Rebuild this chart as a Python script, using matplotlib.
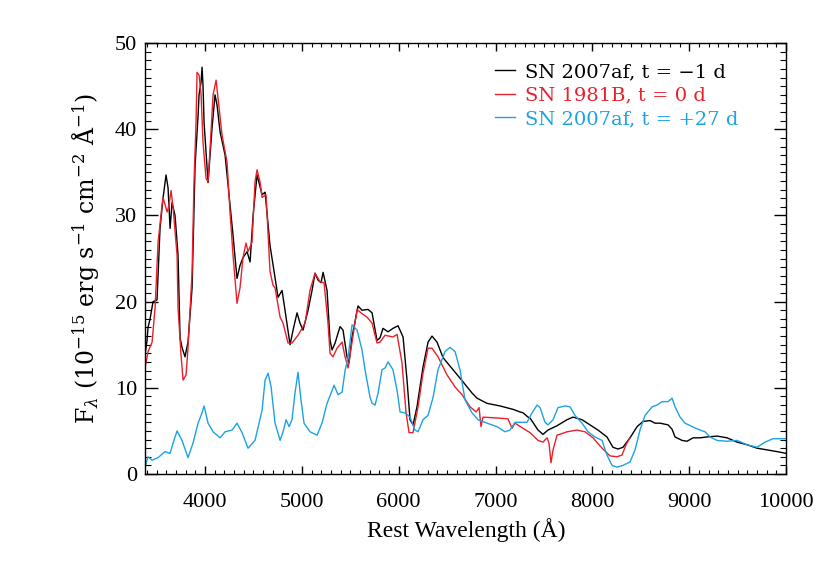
import matplotlib
matplotlib.use("Agg")
import matplotlib.pyplot as plt
from matplotlib.ticker import MultipleLocator

# ---------------- data ----------------
black_wl = [3380, 3401, 3411, 3432, 3463, 3504, 3535, 3566, 3597, 3618, 3639, 3659, 3690, 3721,
            3742, 3762, 3793, 3824, 3866, 3897, 3928, 3938, 3959, 3969, 3979, 3990, 4021, 4031,
            4072, 4103, 4124, 4155, 4207, 4258, 4289, 4330, 4361, 4392, 4434, 4465, 4496, 4537,
            4589, 4620, 4671, 4702, 4754, 4795, 4826, 4878, 4909, 4950, 4981, 5012, 5064, 5105,
            5136, 5167, 5198, 5219, 5260, 5291, 5312, 5343, 5394, 5425, 5466, 5487, 5518, 5580,
            5621, 5683, 5725, 5776, 5807, 5838, 5890, 5941, 5993, 6045, 6086, 6117, 6148, 6189,
            6251, 6303, 6344, 6396, 6458, 6561, 6664, 6757, 6809, 6912, 7046, 7181, 7253, 7284,
            7336, 7356, 7439, 7490, 7542, 7635, 7738, 7800, 7893, 7976, 8058, 8151, 8213, 8265,
            8316, 8389, 8462, 8524, 8596, 8647, 8699, 8782, 8823, 8854, 8926, 8978, 9040, 9112,
            9184, 9288, 9391, 9494, 9597, 9700, 9804, 9907, 10000]
black_fl = [13.8, 15.5, 17.0, 18.0, 20.0, 20.2, 28.5, 32.0, 34.7, 33.2, 28.5, 31.5, 30.0, 25.4,
            15.8, 14.7, 13.6, 15.3, 21.6, 35.8, 41.6, 44.0, 45.5, 47.2, 45.1, 40.8, 35.5, 33.8,
            40.1, 44.0, 42.8, 39.7, 37.0, 31.2, 27.7, 22.7, 24.2, 25.1, 25.8, 24.6, 30.0, 34.7,
            32.4, 32.7, 26.5, 24.3, 20.5, 21.3, 19.0, 15.0, 16.7, 18.7, 17.5, 16.7, 19.0, 21.3,
            23.3, 22.5, 22.2, 23.4, 21.3, 15.5, 14.4, 15.2, 17.1, 16.7, 13.6, 12.9, 15.9, 19.5,
            19.0, 19.1, 18.7, 15.5, 15.8, 16.9, 16.5, 16.9, 17.2, 15.9, 10.9, 6.3, 5.7, 7.8,
            12.4, 15.3, 16.0, 15.3, 13.5, 12.1, 10.7, 9.4, 8.8, 8.2, 7.9, 7.5, 7.2, 7.1,
            6.6, 6.5, 5.1, 4.6, 5.1, 5.6, 6.3, 6.6, 6.3, 5.7, 5.1, 4.3, 3.1, 2.9,
            3.1, 4.2, 5.5, 6.1, 6.2, 5.9, 5.9, 5.7, 5.2, 4.3, 3.9, 3.8, 4.2, 4.2,
            4.3, 4.4, 4.2, 3.7, 3.4, 3.0, 2.8, 2.6, 2.4]

red_wl = [3380, 3411, 3453, 3484, 3515, 3556, 3566, 3608, 3628, 3649, 3670, 3711, 3721, 3752,
          3773, 3804, 3824, 3866, 3886, 3907, 3917, 3938, 3959, 3979, 4010, 4031, 4052, 4083,
          4114, 4134, 4176, 4227, 4258, 4289, 4330, 4361, 4392, 4423, 4444, 4485, 4516, 4537,
          4568, 4589, 4630, 4671, 4702, 4723, 4775, 4806, 4857, 4898, 4960, 5033, 5084, 5136,
          5188, 5229, 5270, 5291, 5322, 5363, 5415, 5446, 5477, 5518, 5570, 5621, 5673, 5725,
          5776, 5807, 5859, 5941, 5983, 6034, 6076, 6107, 6148, 6200, 6251, 6303, 6344, 6406,
          6499, 6582, 6654, 6737, 6799, 6830, 6850, 6871, 7015, 7129, 7170, 7201, 7284, 7356,
          7439, 7490, 7532, 7552, 7573, 7594, 7635, 7738, 7841, 7924, 8007, 8100, 8182, 8254,
          8306, 8348, 8389]
red_fl = [12.3, 14.2, 15.3, 19.3, 26.9, 31.2, 32.1, 30.4, 31.2, 32.9, 30.9, 25.4, 19.3, 13.8,
          10.9, 11.5, 14.6, 23.4, 33.9, 40.8, 46.6, 46.3, 44.0, 38.5, 34.3, 33.9, 37.8, 44.0,
          45.7, 43.6, 39.3, 36.2, 30.4, 25.4, 19.8, 21.6, 25.1, 26.8, 25.8, 26.9, 33.9, 35.3,
          33.9, 32.1, 32.4, 23.5, 21.9, 21.6, 18.2, 17.5, 15.2, 15.2, 16.1, 17.5, 21.3, 23.3,
          22.3, 22.2, 17.5, 14.0, 13.6, 14.6, 15.3, 13.6, 12.3, 15.3, 19.1, 18.6, 18.2, 17.5,
          15.2, 15.3, 16.1, 15.9, 16.2, 12.9, 7.1, 4.8, 4.8, 7.8, 11.7, 14.6, 14.6, 13.6,
          11.5, 10.1, 9.2, 7.8, 7.2, 7.7, 5.5, 6.6, 6.5, 6.4, 5.3, 5.9, 5.3, 4.8,
          3.9, 3.7, 4.2, 3.6, 1.3, 2.8, 4.5, 4.9, 5.1, 4.9, 4.2, 3.0, 2.1, 2.0,
          2.2, 3.4, 4.2]

blue_wl = [3380, 3411, 3453, 3515, 3587, 3639, 3670, 3711, 3762, 3824, 3876, 3928, 3969, 3990,
           4031, 4083, 4155, 4207, 4279, 4330, 4382, 4444, 4516, 4589, 4620, 4651, 4682, 4723,
           4775, 4806, 4837, 4868, 4898, 4929, 4960, 4991, 5022, 5084, 5157, 5208, 5260, 5312,
           5332, 5374, 5415, 5446, 5477, 5518, 5570, 5621, 5652, 5704, 5725, 5756, 5787, 5828,
           5859, 5890, 5941, 5983, 6014, 6065, 6117, 6169, 6200, 6251, 6303, 6355, 6406, 6478,
           6530, 6582, 6633, 6685, 6757, 6819, 6912, 7015, 7098, 7150, 7201, 7274, 7325, 7377,
           7429, 7460, 7511, 7542, 7594, 7645, 7718, 7769, 7821, 7893, 7955, 8027, 8100, 8151,
           8203, 8254, 8316, 8389, 8441, 8492, 8544, 8617, 8668, 8720, 8782, 8823, 8854, 8906,
           8957, 9030, 9112, 9164, 9215, 9288, 9391, 9494, 9597, 9700, 9783, 9866, 10000]
blue_fl = [0.8, 2.0, 1.6, 1.9, 2.6, 2.4, 3.6, 5.0, 3.9, 1.9, 3.6, 5.9, 7.1, 7.9,
           5.9, 4.9, 4.2, 4.9, 5.1, 5.9, 4.8, 3.0, 3.9, 7.4, 10.9, 11.7, 10.1, 5.9,
           3.9, 4.9, 6.3, 5.5, 6.3, 9.4, 11.8, 8.6, 5.9, 4.9, 4.5, 5.9, 8.2, 9.7,
           10.3, 9.2, 9.5, 12.0, 13.5, 17.3, 16.7, 14.4, 12.1, 8.9, 8.2, 8.0, 9.4, 12.1,
           12.3, 13.0, 12.1, 9.7, 7.2, 7.1, 6.6, 5.1, 4.9, 6.3, 6.8, 8.9, 12.1, 14.2,
           14.7, 14.2, 12.1, 8.6, 7.1, 6.3, 5.9, 5.5, 4.9, 5.1, 6.0, 6.0, 6.0, 7.1,
           8.0, 7.7, 6.0, 5.7, 6.3, 7.7, 7.9, 7.8, 6.8, 5.9, 4.9, 4.3, 3.9, 2.2,
           1.0, 0.8, 1.0, 1.4, 2.8, 5.1, 6.8, 7.8, 8.0, 8.4, 8.4, 8.8, 7.8, 6.6,
           5.9, 5.5, 5.1, 4.9, 4.3, 3.9, 3.8, 3.9, 3.4, 3.1, 3.7, 4.1, 4.1]

labels = ["SN 2007af, t = \u22121 d", "SN 1981B, t = 0 d", "SN 2007af, t = +27 d"]
colors = ["black", "#e8202a", "#1ba3e3"]
x_label = "Rest Wavelength (\u00c5)"
y_label = r"F$_\lambda$ (10$^{-15}$ erg s$^{-1}$ cm$^{-2}$ $\mathrm{\AA}^{-1}$)"

# ---------------- figure ----------------
plt.rcParams['mathtext.fontset'] = 'dejavuserif'
fig = plt.figure(figsize=(8.3, 5.67), dpi=100)
ax = fig.add_axes([0.1753, 0.164, 0.7717, 0.760])

series = [(black_wl, black_fl), (red_wl, red_fl), (blue_wl, blue_fl)]
for (wl, fl), lab, c in zip(series, labels, colors):
    ax.plot(wl, fl, color=c, lw=1.0, label=lab)

ax.set_xlim(3385, 10000)
ax.set_ylim(0, 50)
ax.xaxis.set_major_locator(MultipleLocator(1000))
ax.xaxis.set_minor_locator(MultipleLocator(100))
ax.yaxis.set_major_locator(MultipleLocator(10))
ax.yaxis.set_minor_locator(MultipleLocator(1))

ax.tick_params(axis='x', which='major', direction='in', length=6, width=1,
               top=True, bottom=True, pad=14)
ax.tick_params(axis='x', which='minor', direction='in', length=3, width=0.8,
               top=True, bottom=True)
ax.tick_params(axis='y', which='major', direction='in', length=9, width=1,
               left=True, right=True, pad=6)
ax.tick_params(axis='y', which='minor', direction='in', length=4.5, width=0.8,
               left=True, right=True)
for lab in ax.get_xticklabels() + ax.get_yticklabels():
    lab.set_fontfamily('Liberation Serif')
    lab.set_fontsize(16)
for sp in ax.spines.values():
    sp.set_linewidth(1.0)

ax.set_xlabel(x_label, family='Liberation Serif', fontsize=17, labelpad=4)
ax.set_ylabel(y_label, family='DejaVu Serif', fontsize=17, labelpad=9)

leg = ax.legend(loc='upper left', bbox_to_anchor=(495/830, 1-63/567),
                bbox_transform=fig.transFigure, frameon=False,
                prop={'family': 'DejaVu Serif', 'size': 14},
                handlelength=1.05, handletextpad=0.5, labelspacing=0.28,
                borderpad=0, borderaxespad=0, labelcolor='linecolor')
for h in leg.get_lines():
    h.set_linewidth(1.0)

fig.savefig("out.png", dpi=100)
